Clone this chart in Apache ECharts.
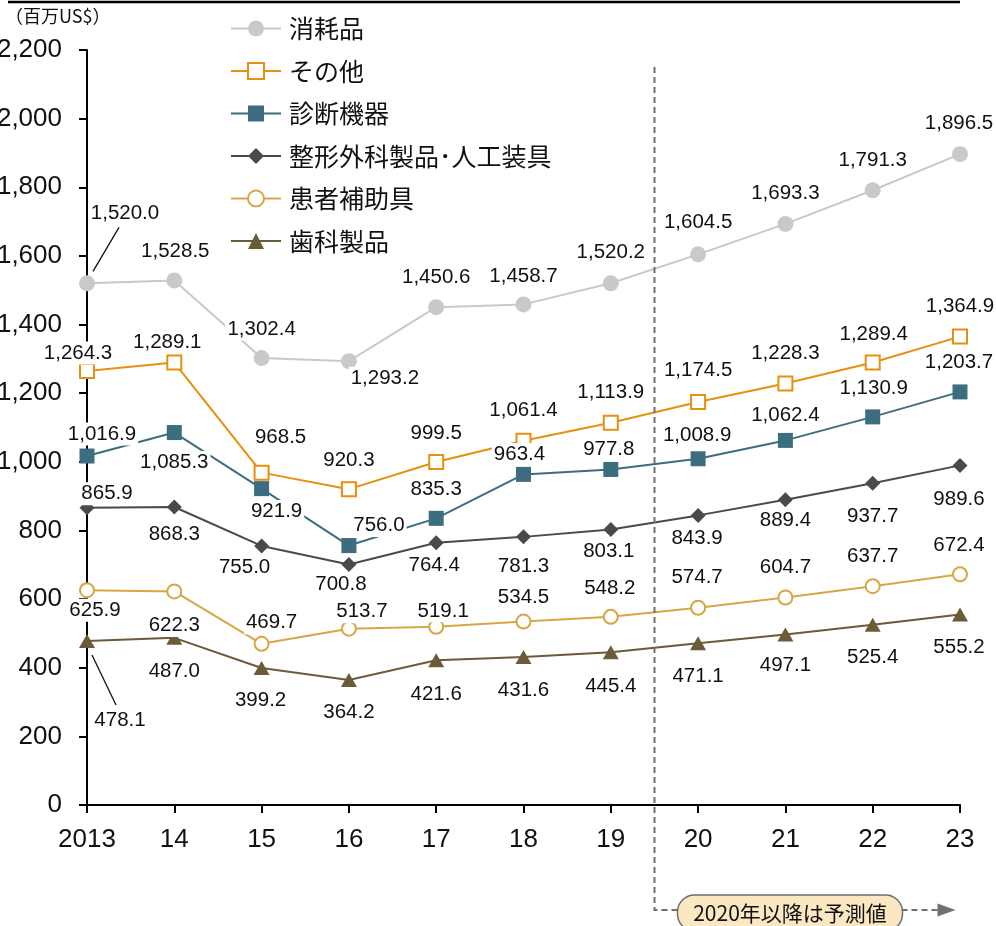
<!DOCTYPE html>
<html>
<head>
<meta charset="utf-8">
<script src="https://cdn.jsdelivr.net/npm/echarts@6/dist/echarts.min.js"></script>
<style>
  html, body { margin: 0; padding: 0; background: #fff; }
  #chart { width: 996px; height: 926px; }
</style>
</head>
<body>
<div id="chart"></div>
<script>
// Categories (years) and y-axis range
const years = ['2013', '14', '15', '16', '17', '18', '19', '20', '21', '22', '23'];
const yMin = 0;
const yMax = 2200;
const yStep = 200;

// Market size by segment (million US$)
const consumables = [1520.0, 1528.5, 1302.4, 1293.2, 1450.6, 1458.7, 1520.2, 1604.5, 1693.3, 1791.3, 1896.5];
const others      = [1264.3, 1289.1, 968.5, 920.3, 999.5, 1061.4, 1113.9, 1174.5, 1228.3, 1289.4, 1364.9];
const diagnostic  = [1016.9, 1085.3, 921.9, 756.0, 835.3, 963.4, 977.8, 1008.9, 1062.4, 1130.9, 1203.7];
const orthopedic  = [865.9, 868.3, 755.0, 700.8, 764.4, 781.3, 803.1, 843.9, 889.4, 937.7, 989.6];
const patientAids = [625.9, 622.3, 469.7, 513.7, 519.1, 534.5, 548.2, 574.7, 604.7, 637.7, 672.4];
const dental      = [478.1, 487.0, 399.2, 364.2, 421.6, 431.6, 445.4, 471.1, 497.1, 525.4, 555.2];

const seriesNames = ['消耗品', 'その他', '診断機器', '整形外科製品･人工装具', '患者補助具', '歯科製品'];
const forecastNote = '2020年以降は予測値';
const unitText = '（百万US$）';
const forecastStartIndex = 7;

// Label placement relative to each marker, [dx, dy] in pixels
const consumablesShift = [[38,-70],[1,-29],[0,-29],[36,17],[0,-30],[0,-28],[0,-31],[0,-32],[0,-31],[0,-30],[-1,-31]];
const othersShift      = [[-9,-18],[-7,-20],[19,-35],[0,-29],[0,-29],[0,-30],[0,-30],[0,-32],[0,-30],[1,-28],[0,-30]];
const diagnosticShift  = [[15,-22],[0,30],[15,23],[30,-20],[0,-29],[-4,-20],[-2,-20],[-1,-23],[0,-25],[1,-29],[-1,-30]];
const orthopedicShift  = [[20,-14],[0,27],[-17,21],[-8,20],[-2,23],[0,29],[-2,22],[-1,23],[0,21],[0,33],[-1,34]];
const patientAidsShift = [[8,20],[0,34],[10,-21],[13,-17],[7,-16],[0,-24],[-1,-29],[-1,-30],[0,-30],[0,-30],[-1,-29]];
const dentalShift      = [[33,79],[0,33],[-1,32],[0,32],[0,34],[0,33],[0,34],[0,33],[0,31],[0,33],[-1,33]];

const latin = "'Liberation Sans', Arial, Helvetica, sans-serif";
const cjk = "'Noto Sans CJK JP', 'Noto Sans', sans-serif";

function fmtValue(v) {
  return Number(v).toLocaleString('en-US', { minimumFractionDigits: 1, maximumFractionDigits: 1 });
}

function lineSeries(name, values, shifts, symbol, color, symbolSize) {
  const hollow = symbol.indexOf('empty') === 0;
  return {
    name: name,
    type: 'line',
    data: values.map((v, i) => ({ value: v, label: { offset: shifts[i] } })),
    symbol: symbol,
    symbolSize: symbolSize,
    showAllSymbol: true,
    color: color,
    lineStyle: { color: color, width: 2 },
    itemStyle: { color: color, borderWidth: hollow ? 2 : 0 },
    label: {
      show: true,
      position: 'inside',
      color: '#111',
      fontSize: 20.5,
      fontFamily: latin,
      backgroundColor: '#fff',
      padding: [1, 2],
      textBorderWidth: 0,
      formatter: p => fmtValue(p.value)
    },
    emphasis: { disabled: true },
    animation: false
  };
}

const chart = echarts.init(document.getElementById('chart'), null, { renderer: 'canvas' });

const series = [
  lineSeries(seriesNames[0], consumables, consumablesShift, 'circle', '#c9c9c9', 16),
  lineSeries(seriesNames[1], others, othersShift, 'emptyRect', '#e6900f', 14),
  lineSeries(seriesNames[2], diagnostic, diagnosticShift, 'rect', '#3d6e80', 15),
  lineSeries(seriesNames[3], orthopedic, orthopedicShift, 'diamond', '#4a4a4a', 15),
  lineSeries(seriesNames[4], patientAids, patientAidsShift, 'emptyCircle', '#d8a642', 14),
  lineSeries(seriesNames[5], dental, dentalShift, 'triangle', '#6b5b38', [16, 14])
];

chart.setOption({
  backgroundColor: '#fff',
  animation: false,
  grid: { left: 87, right: 36, top: 50, bottom: 121, containLabel: false, outerBoundsMode: 'none' },
  legend: {
    orient: 'vertical',
    left: 225,
    top: 11,
    itemWidth: 50,
    itemHeight: 20,
    itemGap: 17.5,
    selectedMode: false,
    data: seriesNames,
    textStyle: { fontSize: 25, fontFamily: cjk, color: '#111', padding: [0, 0, 0, 3] }
  },
  xAxis: {
    type: 'category',
    data: years,
    boundaryGap: false,
    axisLine: { lineStyle: { color: '#000', width: 2 } },
    axisTick: { show: true, length: 8, lineStyle: { color: '#000', width: 2 } },
    axisLabel: { color: '#111', fontSize: 26, fontFamily: latin, margin: 22, interval: 0 },
    splitLine: { show: false }
  },
  yAxis: {
    type: 'value',
    min: yMin,
    max: yMax,
    interval: yStep,
    axisLine: { show: true, lineStyle: { color: '#000', width: 2 } },
    axisTick: { show: true, length: 8, lineStyle: { color: '#000', width: 2 } },
    axisLabel: {
      color: '#111', fontSize: 26, fontFamily: latin, margin: 25,
      formatter: v => Number(v).toLocaleString('en-US')
    },
    splitLine: { show: false }
  },
  series: series
});

// Decorations: rule, unit caption, leader lines, forecast divider
function buildGraphics() {
  const els = [];
  els.push({
    type: 'line', shape: { x1: 8, y1: 2, x2: 960, y2: 2 },
    style: { stroke: '#000', lineWidth: 2.5 }, silent: true
  });
  els.push({
    type: 'text', left: 5, top: 7,
    style: { text: unitText, fontSize: 18, fontFamily: cjk, fill: '#111' }, silent: true
  });

  // leader lines for labels placed away from their markers
  const leaders = [
    { s: 0, i: 0, values: consumables, shifts: consumablesShift, from: [6, -12], to: [-6, 14] },
    { s: 5, i: 0, values: dental, shifts: dentalShift, from: [5, 14], to: [-4, -15] }
  ];
  leaders.forEach(d => {
    const p = chart.convertToPixel({ seriesIndex: d.s }, [d.i, d.values[d.i]]);
    const c = [p[0] + d.shifts[d.i][0], p[1] + d.shifts[d.i][1]];
    els.push({
      type: 'line', z: 10,
      shape: { x1: p[0] + d.from[0], y1: p[1] + d.from[1], x2: c[0] + d.to[0], y2: c[1] + d.to[1] },
      style: { stroke: '#111', lineWidth: 1.3 }, silent: true
    });
  });

  // dashed divider between actual and forecast years
  const xa = chart.convertToPixel({ xAxisIndex: 0 }, forecastStartIndex - 1);
  const xb = chart.convertToPixel({ xAxisIndex: 0 }, forecastStartIndex);
  const xm = Math.round((xa + xb) / 2) + 0.5;
  const yTop = 67, yArrow = 910;
  const dashColor = '#707070';
  els.push({
    type: 'polyline', z: 5,
    shape: { points: [[xm, yTop], [xm, yArrow], [xm + 288, yArrow]] },
    style: { stroke: dashColor, lineWidth: 2, lineDash: [6, 4], fill: null }, silent: true
  });
  els.push({
    type: 'polygon', z: 5,
    shape: { points: [[xm + 283, yArrow - 6.5], [xm + 301, yArrow], [xm + 283, yArrow + 6.5]] },
    style: { fill: dashColor }, silent: true
  });
  els.push({
    type: 'rect', z: 6,
    shape: { x: xm + 23, y: yArrow - 15, width: 225, height: 36, r: 17 },
    style: { fill: '#fbe7c1', stroke: '#6e6e6e', lineWidth: 1.5 }, silent: true
  });
  els.push({
    type: 'text', z: 7,
    x: xm + 23 + 112.5, y: yArrow + 3,
    style: {
      text: forecastNote, fontSize: 21, fontFamily: cjk, fill: '#111',
      align: 'center', verticalAlign: 'middle'
    }, silent: true
  });
  return els;
}

chart.setOption({ graphic: { elements: buildGraphics() } });
</script>
</body>
</html>
